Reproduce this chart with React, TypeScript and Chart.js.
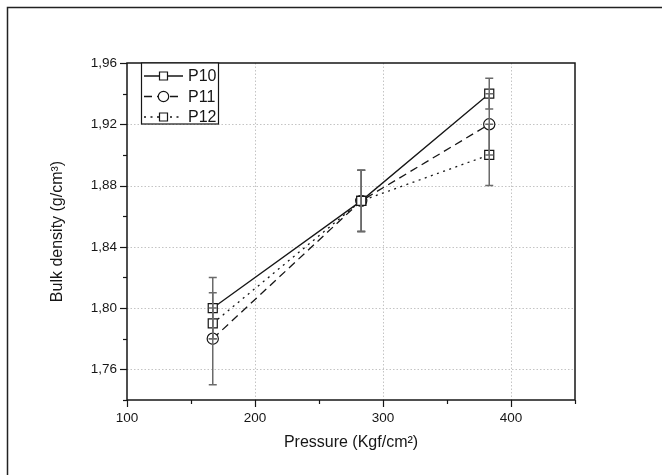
import React, { useEffect, useRef } from "react";
import { Chart, registerables } from "chart.js";

Chart.register(...registerables);

// ---- data ----
const pressure = [167, 283, 383];
const seriesNames = ["P10", "P11", "P12"];
const p10 = [1.80, 1.87, 1.94];
const p10Err = [0.02, 0.02, 0.01];
const p11 = [1.78, 1.87, 1.92];
const p11Err = [0.03, 0.02, 0.02];
const p12 = [1.79, 1.87, 1.90];
const p12Err = [0.01, 0.02, 0.02];
const xTickLabels = [100, 200, 300, 400];
const yTickLabels = [1.76, 1.80, 1.84, 1.88, 1.92, 1.96];
const xMinorTicks = [150, 250, 350, 450];
const yMinorTicks = [1.74, 1.78, 1.82, 1.86, 1.90, 1.94];
const X_MIN = 100;
const X_MAX = 450;
const Y_MIN = 1.74;
const Y_MAX = 1.96;
const xTitle = "Pressure (Kgf/cm\u00B2)";
const yTitle = "Bulk density (g/cm\u00B3)";

const FONT = "'Liberation Sans', Arial, Helvetica, sans-serif";
const INK = "#161616";

const errors = [p10Err, p11Err, p12Err];
const styles = [
  { pointStyle: "rect", radius: 6.4, dash: [] as number[] },
  { pointStyle: "circle", radius: 5.6, dash: [8, 5] },
  { pointStyle: "rect", radius: 6.4, dash: [2, 4.5] },
];

const decorPlugin = {
  id: "decor",
  beforeDatasetsDraw(chart: any) {
    const { ctx, chartArea: a, scales } = chart;
    const xs = scales.x;
    const ys = scales.y;
    ctx.save();
    ctx.strokeStyle = "#c4c4c4";
    ctx.lineWidth = 1;
    ctx.setLineDash([1.5, 2]);
    xTickLabels.forEach((v) => {
      const px = Math.round(xs.getPixelForValue(v)) + 0.5;
      if (px <= a.left + 2 || px >= a.right - 2) return;
      ctx.beginPath();
      ctx.moveTo(px, a.top);
      ctx.lineTo(px, a.bottom);
      ctx.stroke();
    });
    yTickLabels.forEach((v) => {
      const py = Math.round(ys.getPixelForValue(v)) + 0.5;
      if (py <= a.top + 2 || py >= a.bottom - 2) return;
      ctx.beginPath();
      ctx.moveTo(a.left, py);
      ctx.lineTo(a.right, py);
      ctx.stroke();
    });
    ctx.restore();
  },
  afterDatasetsDraw(chart: any) {
    const { ctx, scales } = chart;
    const xs = scales.x;
    const ys = scales.y;
    ctx.save();
    ctx.strokeStyle = "#6a6a6a";
    ctx.lineWidth = 1.5;
    ctx.setLineDash([]);
    chart.data.datasets.forEach((ds: any, di: number) => {
      ds.data.forEach((pt: any, i: number) => {
        const e = errors[di][i];
        const px = xs.getPixelForValue(pt.x);
        const yt = ys.getPixelForValue(pt.y + e);
        const yb = ys.getPixelForValue(pt.y - e);
        ctx.beginPath();
        ctx.moveTo(px, yt);
        ctx.lineTo(px, yb);
        ctx.moveTo(px - 4, yt);
        ctx.lineTo(px + 4, yt);
        ctx.moveTo(px - 4, yb);
        ctx.lineTo(px + 4, yb);
        ctx.stroke();
      });
    });
    ctx.restore();
  },
  afterDraw(chart: any) {
    const { ctx, chartArea: a, scales } = chart;
    const xs = scales.x;
    const ys = scales.y;
    ctx.save();
    ctx.setLineDash([]);
    ctx.strokeStyle = INK;
    // tick marks
    ctx.lineWidth = 1.2;
    const yTick = (v: number, len: number) => {
      const py = Math.round(ys.getPixelForValue(v)) + 0.5;
      ctx.beginPath();
      ctx.moveTo(a.left - len, py);
      ctx.lineTo(a.left, py);
      ctx.stroke();
    };
    const xTick = (v: number, len: number) => {
      const px = Math.round(xs.getPixelForValue(v)) + 0.5;
      ctx.beginPath();
      ctx.moveTo(px, a.bottom);
      ctx.lineTo(px, a.bottom + len);
      ctx.stroke();
    };
    yTickLabels.forEach((v) => yTick(v, 7));
    yMinorTicks.forEach((v) => yTick(v, 4));
    xTickLabels.forEach((v) => xTick(v, 7));
    xMinorTicks.forEach((v) => xTick(v, 4));

    // plot frame
    ctx.lineWidth = 1.5;
    ctx.strokeRect(a.left, a.top, a.right - a.left, a.bottom - a.top);

    // legend
    const lx = a.left + 14;
    const ly = a.top;
    const lw = 77;
    const lh = 61;
    ctx.fillStyle = "#fff";
    ctx.fillRect(lx, ly, lw, lh);
    ctx.lineWidth = 1.2;
    ctx.strokeRect(lx + 0.5, ly, lw, lh);
    const rows = [76, 96.5, 117];
    seriesNames.forEach((name, i) => {
      const cy = rows[i];
      const st = styles[i];
      ctx.strokeStyle = INK;
      ctx.lineWidth = 1.3;
      ctx.setLineDash(st.dash);
      ctx.beginPath();
      ctx.moveTo(lx + 3, cy);
      ctx.lineTo(lx + 42, cy);
      ctx.stroke();
      ctx.setLineDash([]);
      const mx = lx + 22.5;
      ctx.fillStyle = "#fff";
      ctx.lineWidth = 1.2;
      ctx.beginPath();
      if (st.pointStyle === "circle") {
        ctx.arc(mx, cy, 5.2, 0, Math.PI * 2);
      } else {
        ctx.rect(mx - 4, cy - 4, 8, 8);
      }
      ctx.fill();
      ctx.stroke();
      ctx.fillStyle = INK;
      ctx.font = `16px ${FONT}`;
      ctx.textAlign = "left";
      ctx.textBaseline = "middle";
      ctx.fillText(name, lx + 47, cy + 1);
    });

    // axis titles
    ctx.fillStyle = INK;
    ctx.font = `16px ${FONT}`;
    ctx.textAlign = "center";
    ctx.textBaseline = "middle";
    ctx.fillText(xTitle, (a.left + a.right) / 2, 443);
    ctx.save();
    ctx.translate(58, (a.top + a.bottom) / 2);
    ctx.rotate(-Math.PI / 2);
    ctx.fillText(yTitle, 0, 0);
    ctx.restore();

    // outer frame (left and top edges visible)
    ctx.strokeStyle = "#222";
    ctx.lineWidth = 1.5;
    ctx.beginPath();
    ctx.moveTo(7.5, chart.height);
    ctx.lineTo(7.5, 7.5);
    ctx.lineTo(chart.width, 7.5);
    ctx.stroke();
    ctx.restore();
  },
};

export default function App() {
  const ref = useRef<HTMLCanvasElement>(null);

  useEffect(() => {
    const canvas = ref.current;
    if (!canvas) return;
    const series = [p10, p11, p12];
    const datasets = series.map((ys, i) => ({
      label: seriesNames[i],
      data: pressure.map((x, j) => ({ x, y: ys[j] })),
      borderColor: INK,
      borderWidth: 1.3,
      borderDash: styles[i].dash,
      pointStyle: styles[i].pointStyle,
      pointRadius: styles[i].radius,
      pointHoverRadius: styles[i].radius,
      pointBorderWidth: 1.2,
      pointBackgroundColor: "#fff",
      pointBorderColor: INK,
      fill: false,
      tension: 0,
    }));

    const chart = new Chart(canvas, {
      type: "line",
      data: { datasets },
      options: {
        responsive: false,
        animation: false,
        devicePixelRatio: 1,
        layout: { padding: { left: 57, top: 63, right: 87, bottom: 35 } },
        plugins: {
          legend: { display: false },
          tooltip: { enabled: false },
        },
        scales: {
          x: {
            type: "linear",
            min: X_MIN,
            max: X_MAX,
            grid: { display: false, drawTicks: false },
            border: { display: false },
            afterBuildTicks: (s: any) => {
              s.ticks = xTickLabels.map((value) => ({ value }));
            },
            afterFit: (s: any) => {
              s.height = 40;
            },
            ticks: {
              autoSkip: false,
              maxRotation: 0,
              padding: 10,
              color: INK,
              font: { family: FONT, size: 13.5 },
              callback: (v: any) => String(Math.round(Number(v))),
            },
          },
          y: {
            type: "linear",
            min: Y_MIN,
            max: Y_MAX,
            grid: { display: false, drawTicks: false },
            border: { display: false },
            afterBuildTicks: (s: any) => {
              s.ticks = yTickLabels.map((value) => ({ value }));
            },
            afterFit: (s: any) => {
              s.width = 70;
            },
            ticks: {
              autoSkip: false,
              padding: 10,
              color: INK,
              font: { family: FONT, size: 13.5 },
              callback: (v: any) => Number(v).toFixed(2).replace(".", ","),
            },
          },
        },
      } as any,
      plugins: [decorPlugin],
    });

    return () => {
      chart.destroy();
    };
  }, []);

  return (
    <div
      style={{
        position: "absolute",
        left: 0,
        top: 0,
        width: 662,
        height: 475,
        background: "#fff",
      }}
    >
      <canvas
        ref={ref}
        width={662}
        height={475}
        style={{ display: "block", width: 662, height: 475 }}
      />
    </div>
  );
}
